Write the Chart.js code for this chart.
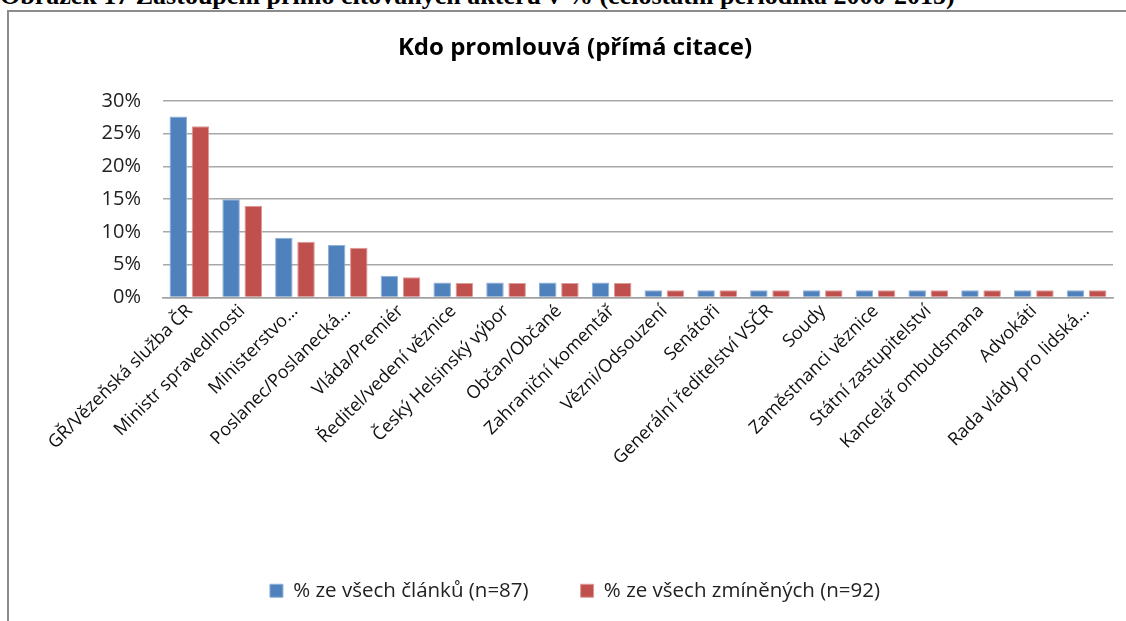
<!DOCTYPE html>
<html>
<head>
<meta charset="utf-8">
<script src="https://cdn.jsdelivr.net/npm/chart.js"></script>
<style>
  html, body { margin: 0; padding: 0; background: #fff; width: 1126px; height: 621px; overflow: hidden; }
  #caption {
    position: absolute; left: 0; top: -19px; white-space: nowrap; line-height: 26px;
    font: bold 26px "Liberation Serif", "Times New Roman", serif; color: #000;
  }
  #box {
    position: absolute; left: 7px; top: 10px; width: 1140px; height: 640px;
    border: 2px solid #8c8c8c; box-sizing: border-box; background: #fff;
  }
  #wrap { position: absolute; left: 9px; top: 12px; width: 1117px; height: 609px; }
</style>
</head>
<body>
<div id="box"></div>
<div id="caption">Obrázek 17 Zastoupení přímo citovaných aktérů v % (celostátní periodika 2000-2015)</div>
<div id="wrap"><canvas id="c"></canvas></div>
<script>
  const CATEGORIES = [
    "GŘ/Vězeňská služba ČR", "Ministr spravedlnosti", "Ministerstvo…", "Poslanec/Poslanecká…",
    "Vláda/Premiér", "Ředitel/vedení věznice", "Český Helsinský výbor", "Občan/Občané",
    "Zahraniční komentář", "Vězni/Odsouzení", "Senátoři", "Generální ředitelství VSČR",
    "Soudy", "Zaměstnanci věznice", "Státní zastupitelství", "Kancelář ombudsmana",
    "Advokáti", "Rada vlády pro lidská…"
  ];
  const ARTICLES = [27.6, 15.0, 9.1, 8.0, 3.3, 2.3, 2.3, 2.3, 2.3, 1.1, 1.1, 1.1, 1.1, 1.1, 1.1, 1.1, 1.1, 1.1];
  const MENTIONED = [26.1, 14.0, 8.5, 7.6, 3.1, 2.2, 2.2, 2.2, 2.2, 1.1, 1.1, 1.1, 1.1, 1.1, 1.1, 1.1, 1.1, 1.1];
  const SERIES_NAMES = ["% ze všech článků (n=87)", "% ze všech zmíněných (n=92)"];
  const Y_TICKS = [0, 5, 10, 15, 20, 25, 30];

  const FONT = "'Open Sans', Lato, sans-serif";

  new Chart(document.getElementById("c"), {
    type: "bar",
    data: {
      labels: CATEGORIES,
      datasets: [
        { label: SERIES_NAMES[0], data: ARTICLES, backgroundColor: "#4F81BD", borderColor: "#8fb0d8", borderWidth: 1 },
        { label: SERIES_NAMES[1], data: MENTIONED, backgroundColor: "#C0504D", borderColor: "#dc9a98", borderWidth: 1 }
      ]
    },
    options: {
      responsive: true,
      maintainAspectRatio: false,
      animation: false,
      datasets: { bar: { categoryPercentage: 0.84, barPercentage: 0.79 } },
      layout: { padding: { left: 28, right: 13, top: 0, bottom: 10 } },
      plugins: {
        title: {
          display: true,
          text: "Kdo promlouvá (přímá citace)",
          color: "#000",
          font: { family: FONT, size: 24, weight: "bold" },
          padding: { top: 22, bottom: 38 }
        },
        legend: {
          position: "bottom",
          labels: {
            color: "#222",
            font: { family: FONT, size: 20.5 },
            boxWidth: 13, boxHeight: 13,
            padding: 52
          }
        },
        tooltip: { enabled: false }
      },
      scales: {
        x: {
          grid: { display: false },
          border: { display: true, color: "#a0a0a0", width: 1.5 },
          ticks: {
            color: "#111",
            font: { family: FONT, size: 18 },
            maxRotation: 45, minRotation: 45,
            autoSkip: false, padding: -5
          },
          afterFit: s => { s.height = 231; }
        },
        y: {
          min: 0, max: 30,
          afterBuildTicks: s => { s.ticks = Y_TICKS.map(v => ({ value: v })); },
          grid: { color: "#a8a8a8", lineWidth: 1.5, drawTicks: false },
          border: { display: false },
          ticks: {
            color: "#222",
            font: { family: FONT, size: 20 },
            padding: 22,
            callback: v => v + "%"
          },
          afterFit: s => { s.width = 126; }
        }
      }
    }
  });
</script>
</body>
</html>
